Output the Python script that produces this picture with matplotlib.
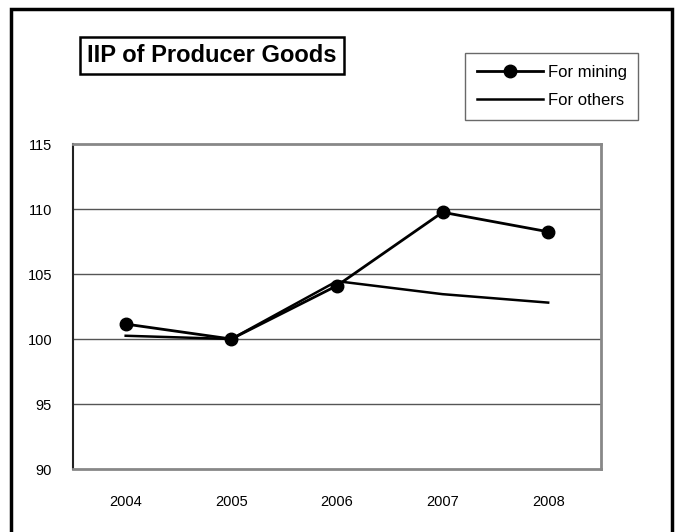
import matplotlib.pyplot as plt
from matplotlib.patches import Rectangle

years = ['2004', '2005', '2006', '2007', '2008']
mining = [101.15, 100.0, 104.1, 109.75, 108.25]
others = [100.25, 100.0, 104.45, 103.45, 102.8]
yticks = [90, 95, 100, 105, 110, 115]

plt.rcParams['font.family'] = ['Liberation Sans', 'DejaVu Sans']

fig = plt.figure(figsize=(6.81, 5.32), dpi=100)
ax = fig.add_axes([0.107, 0.1184, 0.7755, 0.6109])

x = [i + 0.5 for i in range(len(years))]
ax.plot(x, mining, color='black', lw=2, marker='o', ms=9, label='For mining')
ax.plot(x, others, color='black', lw=1.8, label='For others')

ax.set_xlim(0, 5)
ax.set_ylim(90, 115)
ax.set_yticks(yticks)
ax.set_xticks(x)
ax.set_xticklabels(years)
ax.tick_params(axis='y', length=0, pad=15, labelsize=10.5)
ax.tick_params(axis='x', length=0, pad=19, labelsize=10.5)
for y in yticks[1:-1]:
    ax.axhline(y, color='#555555', lw=1, zorder=0)
for s in ax.spines.values():
    s.set_color('#888888')
    s.set_linewidth(2)
ax.spines['left'].set_color('#222222')
ax.spines['left'].set_linewidth(1.5)

# title box
fig.text(0.128, 0.896, 'IIP of Producer Goods', fontsize=17, fontweight='bold',
         va='center', ha='left',
         bbox=dict(boxstyle='square,pad=0.3', fc='white', ec='black', lw=1.8))

leg = ax.legend(loc='upper left', bbox_to_anchor=(465 / 681, 1 - 53 / 532),
                bbox_transform=fig.transFigure, fontsize=12, frameon=True,
                fancybox=False, edgecolor='#444444', handlelength=4.0,
                handletextpad=0.25, borderpad=0.7, labelspacing=0.8,
                borderaxespad=0)
leg.get_frame().set_linewidth(1)

# outer frame
fig.patches.append(Rectangle((11 / 681, -0.05), 661 / 681, 1 - 9 / 532 + 0.05,
                             transform=fig.transFigure, fill=False,
                             ec='black', lw=2.5))

fig.savefig('out.png', dpi=100)
